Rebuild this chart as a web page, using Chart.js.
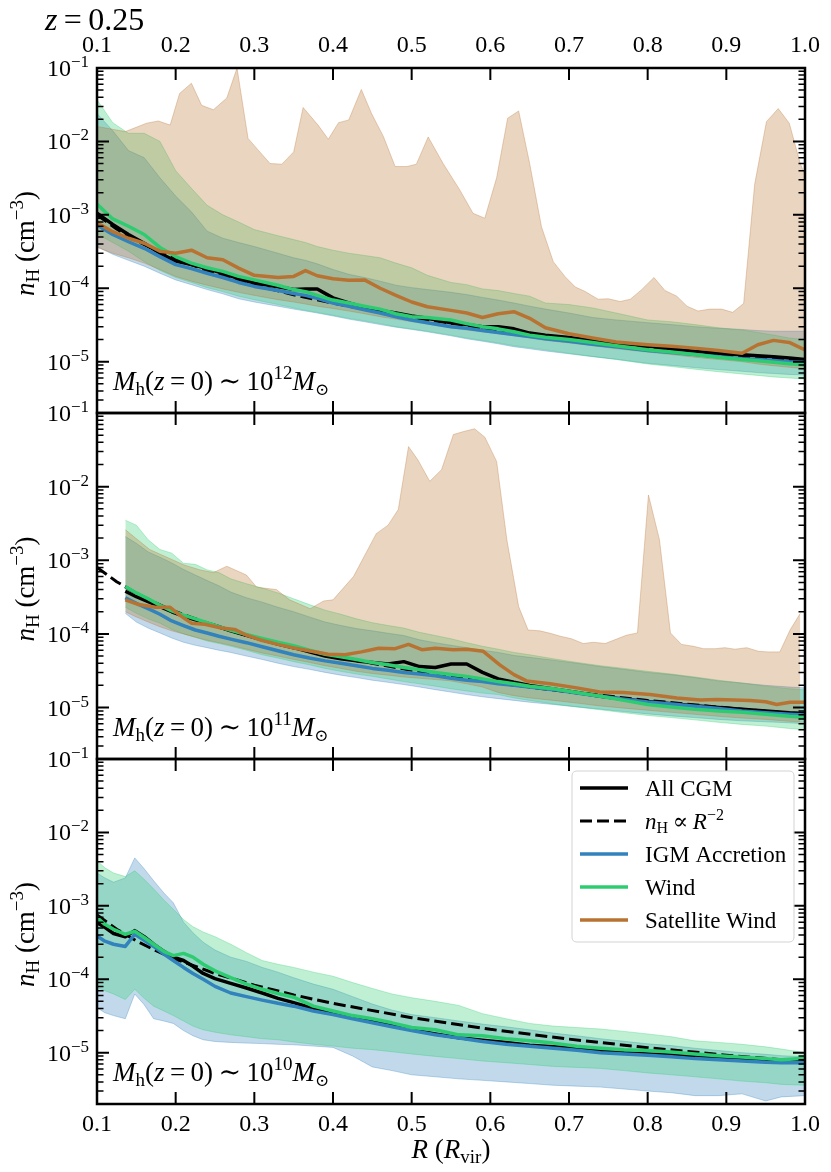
<!DOCTYPE html>
<html><head><meta charset="utf-8">
<script src="https://cdn.jsdelivr.net/npm/chart.js@4.4.1/dist/chart.umd.min.js"></script>
<style>
html,body{margin:0;padding:0;background:#fff;}
#wrap{position:relative;width:831px;height:1172px;overflow:hidden;}
canvas{position:absolute;left:0;top:0;}
</style></head><body>
<div id="wrap">
<canvas id="c1" width="831" height="1172"></canvas>
<canvas id="c2" width="831" height="1172"></canvas>
<canvas id="c3" width="831" height="1172"></canvas>
</div>
<script>
// ---------------- axes / ticks ----------------
const xTickVals = [0.1,0.2,0.3,0.4,0.5,0.6,0.7,0.8,0.9,1.0];
const xTickLabels = ['0.1','0.2','0.3','0.4','0.5','0.6','0.7','0.8','0.9','1.0'];
const yTickVals = [1e-5,1e-4,1e-3,1e-2,1e-1];
const yTickExps = ['\u22125','\u22124','\u22123','\u22122','\u22121'];
const Y_MIN = 2e-6, Y_MAX = 0.1;
const seriesNames = ['All CGM','nH \u221d R^-2','IGM Accretion','Wind','Satellite Wind'];
const panelMassExp = ['12','11','10'];
const redshiftLabel = '0.25';

// ---------------- panel 1 : M_h ~ 1e12 ----------------
const R1 = [0.1,0.12,0.14,0.16,0.18,0.2,0.22,0.24,0.26,0.28,0.3,0.33,0.35,0.365,0.38,0.4,0.42,0.44,0.46,0.48,0.5,0.52,0.55,0.57,0.59,0.61,0.63,0.65,0.67,0.7,0.73,0.76,0.8,0.83,0.86,0.89,0.92,0.94,0.96,0.98,1.0];
const P1_ALL = [1.05e-3,7.4e-4,5.4e-4,4.1e-4,3.0e-4,2.35e-4,2.1e-4,1.85e-4,1.6e-4,1.35e-4,1.18e-4,1.05e-4,9.6e-5,9.8e-5,9.8e-5,7.4e-5,6.3e-5,5.5e-5,5.0e-5,4.6e-5,4.2e-5,3.9e-5,3.4e-5,3.2e-5,3.0e-5,3.0e-5,2.8e-5,2.45e-5,2.3e-5,2.14e-5,1.95e-5,1.8e-5,1.63e-5,1.5e-5,1.38e-5,1.3e-5,1.24e-5,1.2e-5,1.17e-5,1.12e-5,1.07e-5];
const P1_IGM = [7.3e-4,5.4e-4,4.3e-4,3.5e-4,2.7e-4,2.1e-4,1.85e-4,1.6e-4,1.4e-4,1.2e-4,1.06e-4,9.3e-5,8.5e-5,8.0e-5,7.3e-5,6.3e-5,5.7e-5,5.1e-5,4.6e-5,4.1e-5,3.7e-5,3.4e-5,3.0e-5,2.85e-5,2.65e-5,2.5e-5,2.35e-5,2.2e-5,2.05e-5,1.9e-5,1.73e-5,1.6e-5,1.42e-5,1.33e-5,1.25e-5,1.17e-5,1.1e-5,1.07e-5,1.04e-5,1.0e-5,9.8e-6];
const P1_WIND = [1.4e-3,8.8e-4,7.0e-4,5.4e-4,3.6e-4,2.7e-4,2.2e-4,1.9e-4,1.7e-4,1.45e-4,1.3e-4,1.1e-4,9.6e-5,9.0e-5,8.0e-5,6.9e-5,6.3e-5,5.7e-5,5.2e-5,4.5e-5,4.1e-5,4.0e-5,3.7e-5,3.3e-5,3.0e-5,2.8e-5,2.55e-5,2.3e-5,2.15e-5,2.0e-5,1.82e-5,1.65e-5,1.45e-5,1.35e-5,1.25e-5,1.15e-5,1.07e-5,1.03e-5,9.8e-6,9.4e-6,9.1e-6];
const P1_SAT = [7.8e-4,5.9e-4,4.8e-4,4.1e-4,3.2e-4,3.0e-4,3.3e-4,2.6e-4,2.44e-4,1.88e-4,1.5e-4,1.4e-4,1.45e-4,1.74e-4,1.48e-4,1.35e-4,1.29e-4,1.3e-4,1.0e-4,8.0e-5,6.5e-5,5.6e-5,5.0e-5,4.6e-5,4.0e-5,4.5e-5,4.8e-5,3.9e-5,2.9e-5,2.4e-5,2.1e-5,1.85e-5,1.7e-5,1.62e-5,1.53e-5,1.42e-5,1.3e-5,1.7e-5,1.95e-5,1.83e-5,1.45e-5];
const DX = [0.1,0.125,0.15,0.175,0.2,0.25,0.3,0.35,0.4,0.5,0.6,0.7,0.8,0.9,1.0];
const P1_DASH = [1.0e-3,6.4e-4,4.44e-4,3.27e-4,2.5e-4,1.6e-4,1.11e-4,8.16e-5,6.25e-5,4.0e-5,2.78e-5,2.04e-5,1.56e-5,1.23e-5,1.0e-5];
const P1_WIND_HI = [3.7e-2,1.8e-2,1.29e-2,1.29e-2,1.0e-2,4.0e-3,2.3e-3,1.35e-3,1.0e-3,8.0e-4,6.3e-4,5.2e-4,4.6e-4,4.2e-4,3.7e-4,3.3e-4,3.0e-4,2.8e-4,2.6e-4,2.2e-4,1.9e-4,1.5e-4,1.2e-4,1.12e-4,9.8e-5,9.3e-5,8.5e-5,7.8e-5,6.3e-5,6.0e-5,5.4e-5,4.6e-5,3.7e-5,3.5e-5,3.2e-5,2.9e-5,2.7e-5,2.5e-5,2.3e-5,2.1e-5,2.0e-5];
const P1_WIND_LO = [5.5e-4,4.2e-4,3.2e-4,2.3e-4,1.75e-4,1.4e-4,1.2e-4,1.02e-4,9.0e-5,7.8e-5,7.0e-5,6.0e-5,5.4e-5,5.0e-5,4.7e-5,4.3e-5,3.9e-5,3.6e-5,3.3e-5,3.0e-5,2.8e-5,2.6e-5,2.3e-5,2.1e-5,1.95e-5,1.8e-5,1.65e-5,1.55e-5,1.45e-5,1.3e-5,1.18e-5,1.07e-5,9.3e-6,8.6e-6,7.9e-6,7.3e-6,6.8e-6,6.5e-6,6.2e-6,6.0e-6,5.8e-6];
const P1_IGM_HI = [2.4e-2,1.4e-2,7.5e-3,6.0e-3,3.2e-3,1.8e-3,1.1e-3,6.0e-4,4.8e-4,4.2e-4,3.7e-4,3.0e-4,2.6e-4,2.4e-4,2.15e-4,1.8e-4,1.55e-4,1.4e-4,1.25e-4,1.1e-4,1.02e-4,9.6e-5,8.8e-5,8.2e-5,7.5e-5,6.9e-5,6.3e-5,5.7e-5,5.2e-5,4.6e-5,4.0e-5,3.7e-5,3.4e-5,3.2e-5,3.0e-5,2.85e-5,2.75e-5,2.65e-5,2.6e-5,2.6e-5,2.6e-5];
const P1_IGM_LO = [3.7e-4,2.9e-4,2.4e-4,2.0e-4,1.6e-4,1.3e-4,1.12e-4,9.6e-5,8.4e-5,7.2e-5,6.5e-5,5.7e-5,5.2e-5,4.9e-5,4.6e-5,4.2e-5,3.8e-5,3.5e-5,3.2e-5,2.95e-5,2.75e-5,2.55e-5,2.25e-5,2.05e-5,1.9e-5,1.75e-5,1.6e-5,1.5e-5,1.4e-5,1.28e-5,1.17e-5,1.08e-5,9.5e-6,8.9e-6,8.3e-6,7.8e-6,7.4e-6,7.1e-6,6.9e-6,6.7e-6,6.6e-6];
const P1_SAT_LO = [3.6e-4,3.0e-4,2.6e-4,2.2e-4,1.8e-4,1.45e-4,1.25e-4,1.1e-4,9.8e-5,8.8e-5,8.0e-5,7.0e-5,6.5e-5,6.1e-5,5.7e-5,5.3e-5,4.9e-5,4.5e-5,4.1e-5,3.8e-5,3.5e-5,3.25e-5,2.9e-5,2.7e-5,2.55e-5,2.4e-5,2.25e-5,2.1e-5,1.95e-5,1.8e-5,1.65e-5,1.5e-5,1.35e-5,1.25e-5,1.15e-5,1.07e-5,1.0e-5,9.3e-6,8.8e-6,8.4e-6,8.0e-6];
const P1_SAT_HI_X = [0.1,0.136,0.163,0.178,0.193,0.205,0.22,0.233,0.248,0.265,0.278,0.292,0.305,0.32,0.335,0.35,0.362,0.381,0.394,0.407,0.42,0.436,0.449,0.464,0.479,0.494,0.506,0.521,0.54,0.561,0.578,0.593,0.608,0.622,0.636,0.65,0.665,0.68,0.695,0.708,0.72,0.737,0.75,0.765,0.778,0.792,0.808,0.822,0.837,0.85,0.864,0.879,0.894,0.908,0.922,0.936,0.951,0.966,0.98,0.994,1.0];
const P1_SAT_HI = [1.6e-2,1.36e-2,1.77e-2,1.9e-2,1.67e-2,4.5e-2,6.2e-2,3.1e-2,2.7e-2,3.9e-2,1.0e-1,1.1e-2,7.6e-3,5.0e-3,4.9e-3,7.2e-3,2.9e-2,1.67e-2,1.07e-2,1.8e-2,1.96e-2,5.1e-2,2.4e-2,1.17e-2,4.55e-3,4.55e-3,4.9e-3,1.15e-2,5.0e-3,2.2e-3,1.05e-3,9.0e-4,3.2e-3,2.07e-2,2.6e-2,5.0e-3,6.9e-4,2.3e-4,1.44e-4,1.04e-4,9.1e-5,7.1e-5,7.2e-5,6.6e-5,7.1e-5,9.5e-5,1.4e-4,9.3e-5,7.8e-5,5.7e-5,4.9e-5,5.2e-5,5.2e-5,4.7e-5,6.2e-5,2.6e-3,1.86e-2,2.8e-2,1.77e-2,5.0e-3,3.5e-3];

// ---------------- panel 2 : M_h ~ 1e11 ----------------
const R2 = [0.136,0.15,0.165,0.18,0.195,0.21,0.225,0.24,0.255,0.27,0.29,0.31,0.33,0.35,0.37,0.39,0.41,0.43,0.45,0.47,0.49,0.51,0.53,0.55,0.57,0.59,0.61,0.63,0.65,0.68,0.71,0.74,0.77,0.8,0.83,0.86,0.89,0.92,0.95,0.98,1.0];
const P2_ALL = [3.8e-4,3.2e-4,2.75e-4,2.35e-4,2.0e-4,1.75e-4,1.55e-4,1.4e-4,1.25e-4,1.1e-4,9.6e-5,8.3e-5,7.3e-5,6.5e-5,5.7e-5,5.0e-5,4.6e-5,4.3e-5,4.1e-5,3.9e-5,4.2e-5,3.6e-5,3.5e-5,3.9e-5,3.9e-5,3.0e-5,2.45e-5,2.2e-5,2.0e-5,1.78e-5,1.6e-5,1.42e-5,1.3e-5,1.21e-5,1.13e-5,1.06e-5,1.0e-5,9.5e-6,9.0e-6,8.5e-6,8.3e-6];
const P2_IGM = [3.1e-4,2.6e-4,2.2e-4,1.85e-4,1.5e-4,1.3e-4,1.13e-4,1.03e-4,9.3e-5,8.5e-5,7.6e-5,6.7e-5,5.9e-5,5.2e-5,4.7e-5,4.3e-5,4.0e-5,3.7e-5,3.4e-5,3.2e-5,3.0e-5,2.85e-5,2.7e-5,2.5e-5,2.35e-5,2.25e-5,2.1e-5,2.0e-5,1.9e-5,1.75e-5,1.57e-5,1.42e-5,1.3e-5,1.19e-5,1.12e-5,1.04e-5,9.7e-6,9.0e-6,8.5e-6,8.1e-6,7.9e-6];
const P2_WIND = [4.4e-4,3.6e-4,3.0e-4,2.45e-4,2.05e-4,1.8e-4,1.6e-4,1.42e-4,1.25e-4,1.12e-4,9.8e-5,8.7e-5,7.7e-5,6.9e-5,6.0e-5,5.3e-5,4.9e-5,4.5e-5,4.1e-5,3.8e-5,3.5e-5,3.25e-5,3.0e-5,2.8e-5,2.65e-5,2.45e-5,2.25e-5,2.1e-5,1.95e-5,1.8e-5,1.6e-5,1.42e-5,1.25e-5,1.1e-5,1.02e-5,9.5e-6,9.0e-6,8.6e-6,8.1e-6,7.6e-6,7.4e-6];
const P2_SAT_X = [0.136,0.153,0.174,0.193,0.205,0.22,0.237,0.258,0.275,0.29,0.309,0.33,0.352,0.373,0.394,0.415,0.436,0.458,0.479,0.496,0.513,0.53,0.553,0.57,0.591,0.612,0.63,0.646,0.676,0.71,0.739,0.769,0.803,0.837,0.867,0.888,0.91,0.93,0.95,0.964,0.981,1.0];
const P2_SAT = [2.9e-4,2.5e-4,2.3e-4,2.3e-4,1.8e-4,1.4e-4,1.35e-4,1.2e-4,1.15e-4,9.6e-5,8.2e-5,7.2e-5,6.4e-5,5.8e-5,5.3e-5,5.2e-5,5.7e-5,6.4e-5,6.3e-5,7.2e-5,6.1e-5,6.4e-5,6.1e-5,6.2e-5,5.8e-5,3.8e-5,2.8e-5,2.3e-5,2.1e-5,1.85e-5,1.63e-5,1.6e-5,1.5e-5,1.35e-5,1.27e-5,1.29e-5,1.27e-5,1.25e-5,1.2e-5,1.1e-5,1.18e-5,1.18e-5];
const P2_DASH = [8.0e-4,5.12e-4,3.56e-4,2.61e-4,2.0e-4,1.28e-4,8.9e-5,6.53e-5,5.0e-5,3.2e-5,2.22e-5,1.63e-5,1.25e-5,9.9e-6,8.0e-6];
const P2_WIND_HI = [3.5e-3,3.0e-3,1.9e-3,1.4e-3,1.25e-3,9.1e-4,8.8e-4,7.4e-4,6.8e-4,5.6e-4,4.8e-4,4.2e-4,3.6e-4,3.0e-4,2.5e-4,2.1e-4,1.85e-4,1.6e-4,1.42e-4,1.3e-4,1.2e-4,1.05e-4,9.5e-5,8.6e-5,7.6e-5,6.8e-5,6.2e-5,5.6e-5,5.2e-5,4.6e-5,4.1e-5,3.7e-5,3.4e-5,3.1e-5,2.85e-5,2.6e-5,2.35e-5,2.15e-5,1.95e-5,1.8e-5,1.74e-5];
const P2_WIND_LO = [2.3e-4,1.9e-4,1.6e-4,1.4e-4,1.15e-4,1.0e-4,9.0e-5,8.0e-5,7.4e-5,6.8e-5,6.0e-5,5.2e-5,4.7e-5,4.2e-5,3.8e-5,3.4e-5,3.1e-5,2.85e-5,2.65e-5,2.45e-5,2.25e-5,2.1e-5,1.95e-5,1.8e-5,1.68e-5,1.57e-5,1.5e-5,1.35e-5,1.25e-5,1.12e-5,1.02e-5,9.3e-6,8.5e-6,7.8e-6,7.3e-6,6.8e-6,6.3e-6,5.9e-6,5.6e-6,5.2e-6,5.0e-6];
const P2_IGM_HI = [2.1e-3,1.7e-3,1.3e-3,1.1e-3,9.2e-4,7.5e-4,6.3e-4,5.3e-4,4.5e-4,3.7e-4,3.1e-4,2.7e-4,2.3e-4,2.0e-4,1.7e-4,1.45e-4,1.3e-4,1.18e-4,1.1e-4,1.02e-4,9.5e-5,8.3e-5,7.6e-5,7.0e-5,6.5e-5,6.0e-5,5.6e-5,5.1e-5,4.8e-5,4.4e-5,4.0e-5,3.6e-5,3.3e-5,3.0e-5,2.8e-5,2.55e-5,2.3e-5,2.15e-5,2.0e-5,1.9e-5,1.85e-5];
const P2_IGM_LO = [1.9e-4,1.45e-4,1.2e-4,1.03e-4,8.8e-5,7.7e-5,7.0e-5,6.5e-5,6.0e-5,5.6e-5,5.0e-5,4.5e-5,4.0e-5,3.6e-5,3.3e-5,3.0e-5,2.75e-5,2.55e-5,2.35e-5,2.2e-5,2.05e-5,1.9e-5,1.75e-5,1.62e-5,1.5e-5,1.4e-5,1.32e-5,1.25e-5,1.18e-5,1.1e-5,1.02e-5,9.5e-6,8.8e-6,8.2e-6,7.7e-6,7.3e-6,6.9e-6,6.6e-6,6.4e-6,6.2e-6,6.0e-6];
const P2_SAT_LO = [2.0e-4,1.7e-4,1.45e-4,1.25e-4,1.1e-4,1.0e-4,9.0e-5,8.2e-5,7.6e-5,7.0e-5,6.2e-5,5.5e-5,5.0e-5,4.5e-5,4.1e-5,3.7e-5,3.4e-5,3.1e-5,2.9e-5,2.75e-5,2.6e-5,2.5e-5,2.4e-5,2.3e-5,2.1e-5,1.9e-5,1.6e-5,1.45e-5,1.35e-5,1.25e-5,1.15e-5,1.05e-5,9.8e-6,9.2e-6,8.6e-6,8.1e-6,7.6e-6,7.2e-6,6.9e-6,6.5e-6,6.3e-6];
const P2_SAT_HI_X = [0.136,0.167,0.21,0.231,0.248,0.265,0.29,0.303,0.328,0.345,0.371,0.388,0.4,0.426,0.455,0.47,0.483,0.496,0.508,0.523,0.538,0.553,0.566,0.58,0.593,0.608,0.621,0.636,0.648,0.663,0.676,0.689,0.703,0.718,0.731,0.746,0.758,0.773,0.787,0.801,0.815,0.829,0.843,0.858,0.871,0.886,0.898,0.911,0.926,0.941,0.953,0.968,0.981,0.994];
const P2_SAT_HI = [2.6e-3,1.4e-3,8.7e-4,7.4e-4,6.8e-4,8.3e-4,6.3e-4,4.3e-4,4.0e-4,2.9e-4,2.2e-4,2.8e-4,2.9e-4,6.0e-4,2.3e-3,3.0e-3,4.9e-3,3.5e-2,2.3e-2,1.18e-2,1.7e-2,5.1e-2,5.6e-2,6.1e-2,4.7e-2,2.2e-2,1.9e-3,2.35e-4,1.13e-4,1.1e-4,1.02e-4,9.3e-5,8.6e-5,7.4e-5,7.7e-5,7.4e-5,8.3e-5,9.6e-5,1.03e-4,7.7e-3,1.9e-3,1.03e-4,7.2e-5,6.8e-5,6.3e-5,6.3e-5,6.5e-5,6.2e-5,6.5e-5,5.8e-5,5.7e-5,5.7e-5,1.13e-4,1.9e-4];

// ---------------- panel 3 : M_h ~ 1e10 ----------------
const R3 = [0.1,0.11,0.121,0.136,0.148,0.16,0.172,0.185,0.197,0.21,0.222,0.235,0.25,0.27,0.29,0.31,0.33,0.35,0.375,0.4,0.425,0.45,0.475,0.5,0.53,0.56,0.59,0.62,0.65,0.68,0.71,0.74,0.77,0.8,0.83,0.86,0.89,0.92,0.95,0.97,1.0];
const P3_ALL = [5.9e-4,5.1e-4,4.2e-4,3.8e-4,4.6e-4,3.8e-4,3.0e-4,2.4e-4,2.0e-4,1.8e-4,1.5e-4,1.2e-4,1.02e-4,8.8e-5,7.6e-5,6.5e-5,5.5e-5,4.8e-5,4.0e-5,3.5e-5,3.05e-5,2.7e-5,2.35e-5,2.05e-5,1.8e-5,1.6e-5,1.48e-5,1.38e-5,1.26e-5,1.2e-5,1.14e-5,1.06e-5,1.0e-5,9.6e-6,9.3e-6,8.8e-6,8.4e-6,8.1e-6,7.8e-6,7.7e-6,7.6e-6];
const P3_IGM = [3.9e-4,3.3e-4,3.0e-4,2.8e-4,4.1e-4,3.4e-4,2.8e-4,2.2e-4,1.8e-4,1.45e-4,1.2e-4,1.0e-4,8.0e-5,6.5e-5,5.8e-5,5.2e-5,4.7e-5,4.3e-5,3.7e-5,3.3e-5,2.9e-5,2.55e-5,2.25e-5,2.0e-5,1.75e-5,1.58e-5,1.42e-5,1.3e-5,1.22e-5,1.15e-5,1.08e-5,1.0e-5,9.6e-6,9.2e-6,8.8e-6,8.3e-6,8.0e-6,7.7e-6,7.4e-6,7.3e-6,7.3e-6];
const P3_WIND = [6.9e-4,5.6e-4,4.8e-4,4.1e-4,4.5e-4,3.7e-4,3.0e-4,2.4e-4,2.1e-4,2.25e-4,2.0e-4,1.6e-4,1.3e-4,1.05e-4,8.6e-5,7.3e-5,6.4e-5,5.7e-5,4.3e-5,3.7e-5,3.2e-5,2.9e-5,2.55e-5,2.2e-5,2.05e-5,1.75e-5,1.7e-5,1.55e-5,1.45e-5,1.35e-5,1.22e-5,1.15e-5,1.1e-5,1.07e-5,1.02e-5,9.6e-6,9.1e-6,8.7e-6,8.3e-6,8.0e-6,8.4e-6];
const P3_DASH = [7.5e-4,4.8e-4,3.33e-4,2.45e-4,1.875e-4,1.2e-4,8.33e-5,6.12e-5,4.69e-5,3.0e-5,2.08e-5,1.53e-5,1.17e-5,9.26e-6,7.5e-6];
const P3_WIND_HI = [4.1e-3,3.3e-3,2.8e-3,2.5e-3,3.0e-3,2.3e-3,1.7e-3,1.2e-3,9.0e-4,6.5e-4,5.2e-4,4.4e-4,3.8e-4,3.0e-4,2.3e-4,1.8e-4,1.6e-4,1.45e-4,1.25e-4,1.1e-4,9.0e-5,7.5e-5,6.3e-5,5.6e-5,5.0e-5,4.4e-5,3.4e-5,2.9e-5,2.5e-5,2.3e-5,2.2e-5,2.1e-5,1.95e-5,1.8e-5,1.65e-5,1.45e-5,1.38e-5,1.3e-5,1.2e-5,1.12e-5,1.0e-5];
const P3_WIND_LO = [7.7e-5,7.0e-5,6.3e-5,5.3e-5,7.3e-5,5.5e-5,4.3e-5,3.7e-5,3.2e-5,2.7e-5,2.3e-5,2.05e-5,1.9e-5,1.75e-5,1.65e-5,1.55e-5,1.5e-5,1.4e-5,1.3e-5,1.23e-5,1.15e-5,1.1e-5,1.03e-5,9.6e-6,8.9e-6,8.3e-6,7.7e-6,7.3e-6,6.9e-6,6.5e-6,6.3e-6,6.1e-6,5.7e-6,5.3e-6,5.0e-6,4.7e-6,4.4e-6,4.1e-6,3.9e-6,3.7e-6,3.6e-6];
const P3_IGM_HI = [2.8e-3,2.4e-3,2.1e-3,2.4e-3,4.5e-3,3.2e-3,2.2e-3,1.5e-3,1.1e-3,6.0e-4,4.3e-4,3.2e-4,2.5e-4,2.0e-4,1.75e-4,1.45e-4,1.25e-4,1.05e-4,8.6e-5,7.3e-5,5.8e-5,4.6e-5,3.8e-5,3.3e-5,3.0e-5,2.7e-5,2.45e-5,2.25e-5,2.05e-5,1.85e-5,1.7e-5,1.55e-5,1.43e-5,1.32e-5,1.25e-5,1.15e-5,1.07e-5,1.0e-5,9.5e-6,9.1e-6,8.8e-6];
const P3_IGM_LO = [4.1e-5,3.5e-5,3.2e-5,2.9e-5,6.3e-5,4.5e-5,2.9e-5,2.7e-5,2.5e-5,2.0e-5,1.7e-5,1.5e-5,1.42e-5,1.38e-5,1.35e-5,1.33e-5,1.3e-5,1.28e-5,1.23e-5,1.18e-5,9.0e-6,6.4e-6,5.7e-6,5.0e-6,4.7e-6,4.4e-6,4.2e-6,4.0e-6,3.8e-6,3.6e-6,3.5e-6,3.4e-6,3.2e-6,3.0e-6,2.85e-6,2.6e-6,2.6e-6,2.75e-6,2.2e-6,2.5e-6,2.6e-6];

// ---------------- style ----------------
const SERIF = '"Liberation Serif","DejaVu Serif","Times New Roman",serif';
const C_ALL = '#000000', C_IGM = '#3182bd', C_WIND = '#2ecc71', C_SAT = '#b87333';
const fnt = (px, it) => (it ? 'italic ' : '') + px + 'px ' + SERIF;

function rgba(hex, a) {
  const n = parseInt(hex.slice(1), 16);
  return 'rgba(' + ((n >> 16) & 255) + ',' + ((n >> 8) & 255) + ',' + (n & 255) + ',' + a + ')';
}
function pts(xs, ys) { return xs.map((x, i) => ({x: x, y: ys[i]})); }
function lineSet(xs, ys, color, width, order, dash) {
  return {data: pts(xs, ys), borderColor: color, borderWidth: width, fill: false, pointRadius: 0,
    tension: 0, order: order, borderDash: dash || [], borderJoinStyle: 'round', borderCapStyle: 'butt'};
}
function bandSets(xu, yu, xl, yl, hex, order) {
  return [
    {data: pts(xu, yu), borderColor: rgba(hex, 0.32), backgroundColor: rgba(hex, 0.3), borderWidth: 1,
      fill: '+1', pointRadius: 0, tension: 0, order: order},
    {data: pts(xl, yl), borderColor: rgba(hex, 0.32), borderWidth: 1, fill: false, pointRadius: 0,
      tension: 0, order: order}
  ];
}

// rich text: runs = [text, font, dy]
function rich(ctx, runs, x, y, align) {
  let w = 0;
  for (const r of runs) { ctx.font = r[1]; w += ctx.measureText(r[0]).width; }
  let cx = align === 'center' ? x - w / 2 : (align === 'right' ? x - w : x);
  for (const r of runs) { ctx.font = r[1]; ctx.fillText(r[0], cx, y + (r[2] || 0)); cx += ctx.measureText(r[0]).width; }
}

function drawFrame(chart, massExp) {
  const ctx = chart.ctx, a = chart.chartArea, xs = chart.scales.x, ys = chart.scales.y;
  ctx.save();
  ctx.strokeStyle = '#000'; ctx.fillStyle = '#000';
  ctx.textAlign = 'left'; ctx.textBaseline = 'alphabetic';
  // major ticks
  ctx.lineWidth = 2;
  ctx.beginPath();
  for (const v of xTickVals) {
    const px = xs.getPixelForValue(v);
    ctx.moveTo(px, a.bottom); ctx.lineTo(px, a.bottom - 12);
    ctx.moveTo(px, a.top); ctx.lineTo(px, a.top + 12);
  }
  for (const v of yTickVals) {
    const py = ys.getPixelForValue(v);
    ctx.moveTo(a.left, py); ctx.lineTo(a.left + 12, py);
    ctx.moveTo(a.right, py); ctx.lineTo(a.right - 12, py);
  }
  ctx.stroke();
  // minor ticks
  ctx.lineWidth = 1.5;
  ctx.beginPath();
  for (let d = -6; d <= -2; d++) {
    for (let k = 2; k <= 9; k++) {
      const v = k * Math.pow(10, d);
      if (v < Y_MIN * 0.999 || v > Y_MAX) continue;
      const py = ys.getPixelForValue(v);
      ctx.moveTo(a.left, py); ctx.lineTo(a.left + 6.5, py);
      ctx.moveTo(a.right, py); ctx.lineTo(a.right - 6.5, py);
    }
  }
  ctx.stroke();
  // spines
  ctx.lineWidth = 2.5;
  ctx.strokeRect(a.left, a.top, a.right - a.left, a.bottom - a.top);
  // y tick labels
  yTickVals.forEach((v, i) => {
    const py = ys.getPixelForValue(v);
    ctx.font = fnt(24); const w10 = ctx.measureText('10').width;
    ctx.font = fnt(17); const we = ctx.measureText(yTickExps[i]).width;
    const x0 = 89 - w10 - we;
    ctx.font = fnt(24); ctx.fillText('10', x0, py + 8);
    ctx.font = fnt(17); ctx.fillText(yTickExps[i], x0 + w10, py - 1);
  });
  // y axis title (rotated)
  const cy = (a.top + a.bottom) / 2 + 3;
  ctx.save();
  ctx.translate(34, cy);
  ctx.rotate(-Math.PI / 2);
  rich(ctx, [['n', fnt(27, true)], ['H', fnt(19), 5], [' (cm', fnt(27)], ['\u22123', fnt(19), -11], [')', fnt(27)]], 0, 0, 'center');
  ctx.restore();
  // panel annotation
  rich(ctx, [['M', fnt(27, true)], ['h', fnt(19), 5], ['(', fnt(27)], ['z', fnt(27, true)], ['\u2009=\u2009', fnt(27)],
    ['0)', fnt(27)], ['\u2009\u223c\u2009', fnt(27)], ['10', fnt(27)], [massExp, fnt(19), -11], ['M', fnt(27, true)], ['\u2299', fnt(17), 5]],
    113, a.bottom - 23, 'left');
  ctx.restore();
}

function drawLegend(chart) {
  const ctx = chart.ctx;
  ctx.save();
  const bx = 572, by = 771, bw = 222, bh = 171, r = 5;
  ctx.beginPath();
  ctx.moveTo(bx + r, by); ctx.lineTo(bx + bw - r, by); ctx.quadraticCurveTo(bx + bw, by, bx + bw, by + r);
  ctx.lineTo(bx + bw, by + bh - r); ctx.quadraticCurveTo(bx + bw, by + bh, bx + bw - r, by + bh);
  ctx.lineTo(bx + r, by + bh); ctx.quadraticCurveTo(bx, by + bh, bx, by + bh - r);
  ctx.lineTo(bx, by + r); ctx.quadraticCurveTo(bx, by, bx + r, by);
  ctx.closePath();
  ctx.fillStyle = 'rgba(255,255,255,0.85)'; ctx.fill();
  ctx.strokeStyle = '#d3d3d3'; ctx.lineWidth = 1; ctx.stroke();
  const rows = [788, 821, 854, 887, 920];
  const cols = [C_ALL, C_ALL, C_IGM, C_WIND, C_SAT];
  ctx.textAlign = 'left'; ctx.textBaseline = 'alphabetic';
  rows.forEach((ry, i) => {
    ctx.beginPath();
    ctx.strokeStyle = cols[i]; ctx.lineWidth = i === 1 ? 3 : 3.5;
    ctx.setLineDash(i === 1 ? [12, 5] : []);
    ctx.moveTo(580, ry); ctx.lineTo(628, ry); ctx.stroke();
    ctx.setLineDash([]);
    ctx.fillStyle = '#000';
    if (i === 1) {
      rich(ctx, [['n', fnt(23, true)], ['H', fnt(16), 4], ['\u2009\u221d\u2009', fnt(23)], ['R', fnt(23, true)], ['\u22122', fnt(16), -9]], 645, ry + 8, 'left');
    } else {
      ctx.font = fnt(23); ctx.fillText(seriesNames[i], 645, ry + 8);
    }
  });
  ctx.restore();
}

function makeChart(id, padding, xPos, datasets, massExp, extraDraw) {
  const xOpts = {
    type: 'linear', min: 0.1, max: 1.0, display: !!xPos, position: xPos || 'bottom',
    grid: {display: false, drawTicks: false}, border: {display: false},
    afterBuildTicks: s => { s.ticks = xTickVals.map(v => ({value: v})); },
    ticks: {autoSkip: false, maxRotation: 0, minRotation: 0, padding: xPos === 'top' ? 8 : 6,
      font: {family: SERIF, size: 24}, color: '#000', callback: (v, i) => xTickLabels[i]}
  };
  if (xPos) xOpts.afterFit = s => { s.height = 68; };
  return new Chart(document.getElementById(id), {
    type: 'line',
    data: {datasets: datasets},
    options: {
      responsive: false, animation: false, events: [],
      layout: {padding: padding},
      plugins: {legend: {display: false}, tooltip: {enabled: false}},
      scales: {
        x: xOpts,
        y: {type: 'logarithmic', min: Y_MIN, max: Y_MAX, position: 'left',
          grid: {display: false, drawTicks: false}, border: {display: false},
          ticks: {display: false}, afterFit: s => { s.width = 97; }}
      }
    },
    plugins: [{id: 'frame' + id, afterDraw: c => { drawFrame(c, massExp); if (extraDraw) extraDraw(c); }}]
  });
}

function panelSets(p) {
  let ds = [];
  ds = ds.concat(bandSets(p.igmHi[0], p.igmHi[1], p.igmLo[0], p.igmLo[1], C_IGM, 40));
  ds = ds.concat(bandSets(p.windHi[0], p.windHi[1], p.windLo[0], p.windLo[1], C_WIND, 30));
  if (p.satHi) ds = ds.concat(bandSets(p.satHi[0], p.satHi[1], p.satLo[0], p.satLo[1], C_SAT, 20));
  ds.push(lineSet(p.all[0], p.all[1], C_ALL, 3.5, 5));
  ds.push(lineSet(p.dash[0], p.dash[1], C_ALL, 3, 4, [12, 5]));
  ds.push(lineSet(p.igm[0], p.igm[1], C_IGM, 3.5, 3));
  ds.push(lineSet(p.wind[0], p.wind[1], C_WIND, 3.5, 2));
  if (p.sat) ds.push(lineSet(p.sat[0], p.sat[1], C_SAT, 3.5, 1));
  return ds;
}

Chart.defaults.font.family = SERIF;
Chart.defaults.color = '#000';

const panel1 = {all: [R1, P1_ALL], dash: [DX, P1_DASH], igm: [R1, P1_IGM], wind: [R1, P1_WIND], sat: [R1, P1_SAT],
  igmHi: [R1, P1_IGM_HI], igmLo: [R1, P1_IGM_LO], windHi: [R1, P1_WIND_HI], windLo: [R1, P1_WIND_LO],
  satHi: [P1_SAT_HI_X, P1_SAT_HI], satLo: [R1, P1_SAT_LO]};
const panel2 = {all: [R2, P2_ALL], dash: [DX, P2_DASH], igm: [R2, P2_IGM], wind: [R2, P2_WIND], sat: [P2_SAT_X, P2_SAT],
  igmHi: [R2, P2_IGM_HI], igmLo: [R2, P2_IGM_LO], windHi: [R2, P2_WIND_HI], windLo: [R2, P2_WIND_LO],
  satHi: [P2_SAT_HI_X, P2_SAT_HI], satLo: [R2, P2_SAT_LO]};
const panel3 = {all: [R3, P3_ALL], dash: [DX, P3_DASH], igm: [R3, P3_IGM], wind: [R3, P3_WIND],
  igmHi: [R3, P3_IGM_HI], igmLo: [R3, P3_IGM_LO], windHi: [R3, P3_WIND_HI], windLo: [R3, P3_WIND_LO]};

makeChart('c1', {left: 0, right: 26, top: 0, bottom: 1172 - 413}, 'top', panelSets(panel1), panelMassExp[0], c => {
  const ctx = c.ctx; ctx.save(); ctx.fillStyle = '#000'; ctx.textAlign = 'left'; ctx.textBaseline = 'alphabetic';
  rich(ctx, [['z', fnt(32, true)], ['\u2009=\u2009', fnt(32)], [redshiftLabel, fnt(32)]], 45, 30, 'left');
  ctx.restore();
});
makeChart('c2', {left: 0, right: 26, top: 413, bottom: 1172 - 759}, null, panelSets(panel2), panelMassExp[1], null);
makeChart('c3', {left: 0, right: 26, top: 759, bottom: 0}, 'bottom', panelSets(panel3), panelMassExp[2], c => {
  drawLegend(c);
  const ctx = c.ctx; ctx.save(); ctx.fillStyle = '#000'; ctx.textAlign = 'left'; ctx.textBaseline = 'alphabetic';
  rich(ctx, [['R', fnt(27, true)], [' (', fnt(27)], ['R', fnt(27, true)], ['vir', fnt(19), 5], [')', fnt(27)]], 451, 1158, 'center');
  ctx.restore();
});
</script>
</body></html>
